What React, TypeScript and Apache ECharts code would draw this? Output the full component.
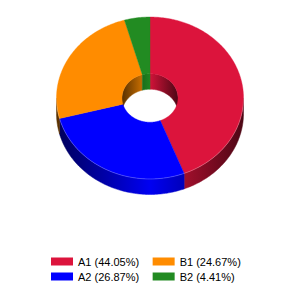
import React, { useEffect, useRef } from "react";
import * as echarts from "echarts";

const categories = ["A1", "A2", "B1", "B2"];
const values = [44.05, 26.87, 24.67, 4.41];
const colors = ["#DC143C", "#0000FF", "#FF8C00", "#228B22"];
const legendRows = [["A1", "B1"], ["A2", "B2"]];

const total = values.reduce((a, b) => a + b, 0);

function shade(hex: string, f: number) {
  const n = parseInt(hex.slice(1), 16);
  const r = Math.round(((n >> 16) & 255) * f);
  const g = Math.round(((n >> 8) & 255) * f);
  const b = Math.round((n & 255) * f);
  return `rgb(${r},${g},${b})`;
}

const K = 0.866; // vertical squash
const DEPTH = 15.5;
const OUTER_RX = 93.5;
const INNER_RX = 28;

function pt(a: number, rx: number, cx: number, cy: number, dy = 0) {
  const r = (a * Math.PI) / 180;
  return [cx + rx * Math.sin(r), cy - rx * K * Math.cos(r) + dy];
}

function arc(a0: number, a1: number, rx: number, cx: number, cy: number, dy = 0) {
  const pts: number[][] = [];
  const n = Math.max(2, Math.ceil(Math.abs(a1 - a0)));
  for (let i = 0; i <= n; i++) pts.push(pt(a0 + ((a1 - a0) * i) / n, rx, cx, cy, dy));
  return pts;
}

function wall(a0: number, a1: number, rx: number, cx: number, cy: number, color: string, z2: number) {
  const top = arc(a0, a1, rx, cx, cy, 0);
  const bot = arc(a1, a0, rx, cx, cy, DEPTH);
  const fill = new echarts.graphic.LinearGradient(
    cx - rx, 0, cx + rx, 0,
    [
      { offset: 0, color: shade(color, 0.35) },
      { offset: 0.5, color: shade(color, 0.95) },
      { offset: 1, color: shade(color, 0.35) },
    ],
    true
  );
  return {
    type: "polygon",
    z2,
    shape: { points: top.concat(bot) },
    style: { fill, stroke: fill, lineWidth: 0.5 },
  };
}

function makeRender(i: number) {
  return (params: any, api: any) => {
    const cx = api.getWidth() / 2;
    const cy = 98;
    const v = api.value(0);
    let cum = 0;
    for (let j = 0; j < i; j++) cum += values[j];
    const start = (cum / total) * 360;
    const end = start + (v / total) * 360;
    const children: any[] = [];
    const o0 = Math.max(start, 90);
    const o1 = Math.min(end, 270);
    if (o1 > o0) children.push(wall(o0, o1, OUTER_RX, cx, cy, colors[i], 1));
    const ranges = [[0, 90], [270, 360]];
    for (const [r0, r1] of ranges) {
      const a0 = Math.max(start, r0);
      const a1 = Math.min(end, r1);
      if (a1 > a0) children.push(wall(a0, a1, INNER_RX, cx, cy, colors[i], 1));
    }
    const outer = arc(start, end, OUTER_RX, cx, cy);
    const inner = arc(end, start, INNER_RX, cx, cy);
    children.push({
      type: "polygon",
      z2: 10,
      shape: { points: outer.concat(inner) },
      style: { fill: colors[i], stroke: colors[i], lineWidth: 0.4 },
    });
    if (o1 > o0) {
      children.push({
        type: "polyline",
        z2: 11,
        shape: { points: arc(o0, o1, OUTER_RX, cx, cy) },
        style: { fill: null, stroke: "rgba(255,255,255,0.3)", lineWidth: 0.8 },
      });
    }
    return { type: "group", children };
  };
}

export default function App() {
  const ref = useRef<HTMLDivElement>(null);
  useEffect(() => {
    if (!ref.current) return;
    const chart = echarts.init(ref.current, null, { renderer: "svg" });
    const legendBase = {
      orient: "horizontal",
      left: 51,
      padding: 0,
      icon: "rect",
      itemWidth: 22,
      itemHeight: 8,
      itemGap: 13.5,
      selectedMode: false,
      textStyle: { fontSize: 11, fontFamily: "Arial", color: "#000" },
      formatter: (name: string) => {
        const idx = categories.indexOf(name);
        return `${name} (${((values[idx] / total) * 100).toFixed(2)}%)`;
      },
    };
    chart.setOption({
      animation: false,
      legend: [
        { ...legendBase, data: legendRows[0], top: 256 },
        { ...legendBase, data: legendRows[1], top: 271 },
      ],
      series: categories.map((name, i) => ({
        type: "custom",
        name,
        coordinateSystem: "none",
        itemStyle: { color: colors[i] },
        data: [[values[i]]],
        renderItem: makeRender(i),
      })),
    });
    return () => chart.dispose();
  }, []);
  return (
    <div
      ref={ref}
      style={{ position: "fixed", left: 0, top: 0, width: 300, height: 300, background: "#fff" }}
    />
  );
}
